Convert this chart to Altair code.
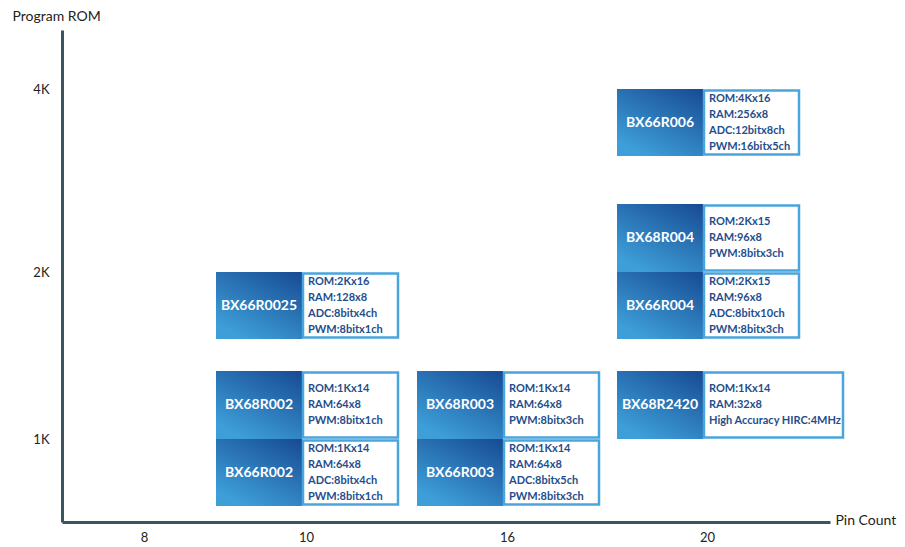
import altair as alt
import pandas as pd

# ---- data ----
names = ["BX66R006", "BX68R004", "BX66R004", "BX66R0025", "BX68R002",
         "BX66R002", "BX68R003", "BX66R003", "BX68R2420"]
pins = [20, 20, 20, 10, 10, 10, 16, 16, 20]
rom_k = [4, 2, 2, 2, 1, 1, 1, 1, 1]
slot = ["lower", "upper", "lower", "lower", "upper", "lower", "upper", "lower", "upper"]
specs = [
    "ROM:4Kx16\nRAM:256x8\nADC:12bitx8ch\nPWM:16bitx5ch",
    "ROM:2Kx15\nRAM:96x8\nPWM:8bitx3ch",
    "ROM:2Kx15\nRAM:96x8\nADC:8bitx10ch\nPWM:8bitx3ch",
    "ROM:2Kx16\nRAM:128x8\nADC:8bitx4ch\nPWM:8bitx1ch",
    "ROM:1Kx14\nRAM:64x8\nPWM:8bitx1ch",
    "ROM:1Kx14\nRAM:64x8\nADC:8bitx4ch\nPWM:8bitx1ch",
    "ROM:1Kx14\nRAM:64x8\nPWM:8bitx3ch",
    "ROM:1Kx14\nRAM:64x8\nADC:8bitx5ch\nPWM:8bitx3ch",
    "ROM:1Kx14\nRAM:32x8\nHigh Accuracy HIRC:4MHz",
]
pin_ticks = [8, 10, 16, 20]
rom_ticks = [1, 2, 4]
rom_labels = ["1K", "2K", "4K"]

df = pd.DataFrame({"name": names, "pins": pins, "rom": rom_k, "slot": slot,
                   "specs": [s.split("\n") for s in specs],
                   "nlines": [len(s.split("\n")) for s in specs]})

FONT = "Lato"
W, H = 768, 492

x_scale = alt.Scale(domain=[7.0, 8, 10, 16, 20, 23.2], range=[0, 82, 244, 445, 645, W])
y_scale = alt.Scale(domain=[0.7, 1, 2, 4, 4.8], range=[H, 409, 242, 59, 0])

lab_expr = " : ".join(f"datum.value == {v} ? '{l}'" for v, l in zip(rom_ticks, rom_labels)) + " : ''"

base = alt.Chart(df).encode(
    x=alt.X("pins:Q", scale=x_scale,
            axis=alt.Axis(values=pin_ticks, grid=False, ticks=False, labelPadding=9,
                          labelFontSize=13, labelColor="#222", labelFont=FONT,
                          domainColor="#3b5560", domainWidth=3,
                          title="Pin Count", titleFont=FONT, titleFontSize=14,
                          titleFontWeight="normal", titleColor="#222",
                          titleX=773, titleY=-2, titleAlign="left", titleBaseline="middle")),
    y=alt.Y("rom:Q", scale=y_scale,
            axis=alt.Axis(values=rom_ticks, grid=False, ticks=False, labelPadding=13,
                          labelExpr=lab_expr,
                          labelFontSize=13, labelColor="#222", labelFont=FONT,
                          domainColor="#3b5560", domainWidth=3,
                          title="Program ROM", titleFont=FONT, titleFontSize=14,
                          titleFontWeight="normal", titleColor="#222", titleAngle=0,
                          titleX=-50, titleY=-21, titleAlign="left", titleBaseline="top")),
    x2="pins:Q",
    y2="rom:Q",
)

grad = alt.LinearGradient(
    gradient="linear",
    stops=[alt.GradientStop(offset=0, color="#174a93"),
           alt.GradientStop(offset=1, color="#3d9ed8")],
    x1=1, y1=0, x2=0.35, y2=1,
)

layers = []
for sl, y0, y1 in [("upper", -68, 0), ("lower", 0, 67)]:
    yc = (y0 + y1) / 2
    f = f"datum.slot == '{sl}'"
    dark = base.transform_filter(f).mark_rect(
        color=grad, xOffset=-90, x2Offset=-4, yOffset=y0, y2Offset=y1)
    white = base.transform_filter(f + " && datum.name != 'BX68R2420'").mark_rect(
        fill="white", stroke="#49a5de", strokeWidth=2.5,
        xOffset=-3, x2Offset=92, yOffset=y0 + 1.5, y2Offset=y1 - 1.5)
    white_wide = base.transform_filter(f + " && datum.name == 'BX68R2420'").mark_rect(
        fill="white", stroke="#49a5de", strokeWidth=2.5,
        xOffset=-3, x2Offset=136, yOffset=y0 + 1.5, y2Offset=y1 - 1.5)
    name_txt = base.transform_filter(f).mark_text(
        font=FONT, fontWeight="bold", fontSize=14, color="white",
        align="center", baseline="middle", dx=-47, dy=yc
    ).encode(text="name:N")
    layers += [dark, white, white_wide, name_txt]
    for n in (3, 4):
        spec_txt = base.transform_filter(f + f" && datum.nlines == {n}").mark_text(
            font=FONT, fontWeight="bold", fontSize=11, color="#1f4e8c",
            align="left", baseline="middle", dx=2, dy=yc - (n - 1) * 8, lineHeight=16
        ).encode(text="specs")
        layers.append(spec_txt)

chart = alt.layer(*layers).properties(
    width=W, height=H,
    autosize=alt.AutoSizeParams(type="none"),
    padding={"left": 54, "top": 22, "right": 67, "bottom": 25},
).configure_view(stroke=None)

chart.save("out.html", embed_options={"renderer": "svg", "actions": False})
